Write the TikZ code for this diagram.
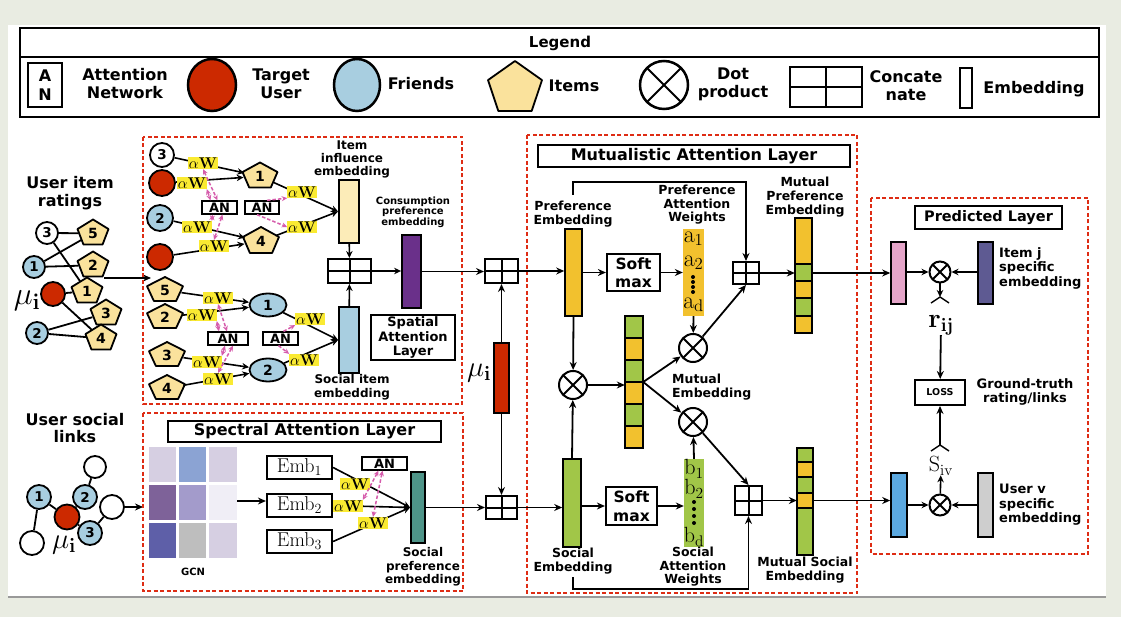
\RequirePackage{fix-cm}
\documentclass[tikz,border=0pt]{standalone}
\usepackage[no-math]{fontspec}
\setmainfont{DejaVu Sans}
\usetikzlibrary{shapes.geometric,arrows.meta,calc}
\definecolor{bgc}{RGB}{233,236,226}
\definecolor{tred}{RGB}{204,41,0}
\definecolor{fblue}{RGB}{168,206,224}
\definecolor{pyel}{RGB}{250,226,156}
\definecolor{awy}{RGB}{250,234,50}
\definecolor{pinkc}{RGB}{214,92,172}
\definecolor{dred}{RGB}{222,44,20}
\definecolor{lyel}{RGB}{252,236,184}
\definecolor{purp}{RGB}{106,48,138}
\definecolor{teal2}{RGB}{78,148,136}
\definecolor{orng}{RGB}{242,193,46}
\definecolor{grn}{RGB}{161,198,72}
\definecolor{pnk}{RGB}{228,164,200}
\definecolor{purp2}{RGB}{94,90,146}
\definecolor{blu}{RGB}{91,168,223}
\definecolor{gry}{RGB}{206,206,206}
\definecolor{ga}{RGB}{214,207,226}
\definecolor{gb}{RGB}{139,163,211}
\definecolor{gc}{RGB}{126,98,153}
\definecolor{gd}{RGB}{163,155,203}
\definecolor{ge}{RGB}{240,238,246}
\definecolor{gf}{RGB}{94,95,168}
\definecolor{gg}{RGB}{190,190,190}
\newcommand\mybx[7][]{\node[inner sep=0pt, minimum width={#5-#3}, minimum height={#6-#4}, #1] (#2) at ({(#3+#5)/2},{(#4+#6)/2}) {#7};}
\newcommand\mypent[6]{%
 \filldraw[pentst] ({#2},{#3-#5/2}) -- ({#2+#4/2},{#3-0.118*#5}) -- ({#2+0.309*#4},{#3+#5/2}) -- ({#2-0.309*#4},{#3+#5/2}) -- ({#2-#4/2},{#3-0.118*#5}) -- cycle;
 \node[pentlab, minimum width={0.93*#4}, minimum height={0.85*#5}] (#1) at ({#2},{#3+0.053*#5}) {#6};}
\tikzset{
 T/.style 2 args={font=\bfseries\fontsize{#1}{#2}\selectfont, align=center, inner sep=0pt},
 ln/.style={line width=1.8pt},
 arr/.style={line width=1.8pt, -{Stealth[length=8pt,width=7pt]}},
 sarr/.style={line width=1.6pt, -{Stealth[length=7pt,width=6.5pt]}},
 pkd/.style={draw=pinkc, line width=1.5pt, dash pattern=on 3.5pt off 2pt, {Stealth[length=5.5pt,width=5pt]}-{Stealth[length=5.5pt,width=5pt]}},
 pks/.style={draw=pinkc, line width=1.5pt, dash pattern=on 3.5pt off 2pt, -{Stealth[length=5.5pt,width=5pt]}},
 aw/.style={fill=awy, inner sep=0.6pt, font=\fontsize{15.5}{15.5}\selectfont},
 uc/.style={circle, draw, line width=1.8pt, minimum size=#1, inner sep=0pt, font=\bfseries\fontsize{13.5}{13.5}\selectfont},
 wc/.style={uc=#1, fill=white},
 bc/.style={uc=#1, fill=fblue},
 rc/.style={uc=#1, fill=tred},
 fe/.style={ellipse, draw, line width=1.8pt, fill=fblue, minimum width=37, minimum height=23, inner sep=0pt, font=\bfseries\fontsize{14}{14}\selectfont},
 pentst/.style={fill=pyel, draw=black, line width=1.8pt, line join=round},
 pentlab/.style={ellipse, inner sep=0pt, font=\bfseries\fontsize{14}{14}\selectfont},
 dotp/.style={circle, draw, line width=2pt, minimum size=#1, inner sep=0pt, path picture={\draw[line width=2pt] (path picture bounding box.north west) -- (path picture bounding box.south east) (path picture bounding box.north east) -- (path picture bounding box.south west);}},
 cc/.style={draw, line width=2pt, path picture={\draw[line width=2pt] (path picture bounding box.north) -- (path picture bounding box.south) (path picture bounding box.west) -- (path picture bounding box.east);}},
 rd/.style={draw=dred, line width=2pt, dash pattern=on 4pt off 2.5pt},
 an/.style={draw, line width=1.3pt, inner sep=0pt, minimum height=13, fill=white, font=\bfseries\fontsize{13}{13}\selectfont},
 cellst/.style={draw, line width=1.3pt},
 mth/.style={inner sep=0pt, font=\fontsize{#1}{#1}\selectfont},
}
\begin{document}
\begin{tikzpicture}[x=1pt,y=-1pt]
\useasboundingbox (0,0) rectangle (1121,617);
\fill[bgc] (0,0) rectangle (1121,617);
\fill[white] (8,25) rectangle (1106,597);
\draw[gray!80, line width=1.5pt] (8,597) -- (1106,597);

% ---------------- Legend
\draw[line width=2.2pt] (20,28) rectangle (1099,117);
\draw[line width=1.8pt] (20,57) -- (1099,57);
\node[T={15}{17}] (lg) at (560,43) {Legend};
\node[draw, line width=2.5pt, minimum width=34, minimum height=44, T={16}{19}] (lgan) at (45,85) {A\\N};
\node[T={16}{18}] (lgant) at (125,84) {Attention\\Network};
\node[ellipse, draw, line width=2.5pt, fill=tred, minimum width=48, minimum height=52] (lgr) at (212,85) {};
\node[T={16}{18}] (lgrt) at (281,84) {Target\\User};
\node[ellipse, draw, line width=2.5pt, fill=fblue, minimum width=46, minimum height=52] (lgb) at (357,85) {};
\node[T={16}{18}] (lgbt) at (421,84) {Friends};
\mypent{lgp}{515}{86}{54}{50}{}
\node[T={16}{18}] (lgpt) at (574,86) {Items};
\node[dotp=48, line width=2.5pt] (lgd) at (664,85) {};
\node[T={16}{18}] (lgdt) at (733,84) {Dot\\product};
\mybx[cc]{lgc}{790}{67}{862}{107}{}
\node[T={16}{18}] (lgct) at (906,86) {Concate\\nate};
\mybx[draw, line width=1.3pt]{lge}{960}{68}{972}{108}{}
\node[T={16}{18}] (lget) at (1034,89) {Embedding};

% ---------------- User item ratings graph
\node[T={16}{18}] (uir) at (70,193) {User item\\ratings};
\node[wc=22] (g3) at (47,233) {3};
\mypent{gp5}{93}{232}{31}{25}{5}
\node[bc=22] (g1) at (34,267) {1};
\mypent{gp2}{93}{264}{31}{25}{2}
\node[rc=24] (gu) at (53,294) {};
\mypent{gp1}{87}{290}{31}{25}{1}
\mypent{gp3}{106}{312}{31}{25}{3}
\node[bc=22] (g2) at (37,333) {2};
\mypent{gp4}{101}{337}{31}{25}{4}
\draw[ln] (g3) -- (gp5);
\draw[ln] (g3) -- (gp1);
\draw[ln] (g1) -- (gp5);
\draw[ln] (g1) -- (gp2);
\draw[ln] (gu) -- (gp1);
\draw[ln] (gu) -- (gp4);
\draw[ln] (g2) -- (gp3);
\draw[ln] (g2) -- (gp4);
\node[mth=32] (mul1) at (27,301) {$\mu_{\mathbf{i}}$};
\coordinate (ga1) at (104,278);
\coordinate (ga2) at (151,278);
\draw[arr] (ga1) -- (ga2);

% ---------------- Spatial block
\draw[rd] (143,137) rectangle (462,404);
\node[wc=24] (sc3) at (162,155) {3};
\node[rc=26] (sr1) at (162,183) {};
\node[bc=26] (sc2) at (160,218) {2};
\node[rc=26] (sr2) at (160,257) {};
\mypent{sp1}{260}{175}{35}{25}{1}
\mypent{sp4}{261}{240}{36}{26}{4}
\mybx[draw, line width=1.8pt, fill=lyel]{sie}{339}{180}{359}{243}{}
\node[T={12}{13}] (siet) at (352,159) {Item\\influence\\embedding};
\mybx[cc]{scc}{328}{259}{371}{283}{}
\mybx[draw, line width=1.8pt, fill=purp]{spu}{402}{235}{421}{308}{}
\node[T={10}{10.5}] (sput) at (413,212) {Consumption\\preference\\embedding};
\mybx[draw, line width=2pt, T={13}{14.5}]{ssl}{371}{315}{455}{360}{Spatial\\Attention\\Layer}
\mybx[draw, line width=1.8pt, fill=fblue]{ssi}{339}{307}{359}{373}{}
\node[T={12}{14}] (ssit) at (352,387) {Social item\\embedding};
\mypent{sp5}{165}{289}{36}{24}{5}
\mypent{sp2}{165}{316}{36}{24}{2}
\mypent{sp3}{167}{354}{36}{24}{3}
\mypent{sp4b}{167}{387}{36}{24}{4}
\node[fe] (sf1) at (268,305) {1};
\node[fe] (sf2) at (268,370) {2};
\draw[sarr] (sc3) -- (sp1);
\draw[sarr] (sr1) -- (sp1);
\draw[sarr] (sc2) -- (sp4);
\draw[sarr] (sr2) -- (sp4);
\draw[sarr] (sp1) -- (sie.west);
\draw[sarr] (sp4) -- (sie.west);
\draw[sarr] (sie) -- (scc);
\draw[sarr] (ssi) -- (scc);
\draw[sarr] (scc) -- (scc -| spu.west);
\draw[sarr] (sp5) -- (sf1);
\draw[sarr] (sp2) -- (sf1);
\draw[sarr] (sp3) -- (sf2);
\draw[sarr] (sp4b) -- (sf2);
\draw[sarr] (sf1) -- (ssi.west);
\draw[sarr] (sf2) -- (ssi.west);
\node[aw] (w1) at (203,163) {$\alpha\mathbf{W}$};
\node[aw] (w2) at (192,183) {$\alpha\mathbf{W}$};
\node[aw] (w3) at (197,227) {$\alpha\mathbf{W}$};
\node[aw] (w4) at (214,246) {$\alpha\mathbf{W}$};
\node[aw] (w5) at (302,192) {$\alpha\mathbf{W}$};
\node[aw] (w6) at (302,227) {$\alpha\mathbf{W}$};
\node[aw] (w7) at (218,298) {$\alpha\mathbf{W}$};
\node[aw] (w8) at (202,315) {$\alpha\mathbf{W}$};
\node[aw] (w9) at (207,362) {$\alpha\mathbf{W}$};
\node[aw] (w10) at (218,379) {$\alpha\mathbf{W}$};
\node[aw] (w11) at (310,319) {$\alpha\mathbf{W}$};
\node[aw] (w12) at (304,360) {$\alpha\mathbf{W}$};
\node[an, minimum width=35] (an1) at (219.5,207.5) {AN};
\node[an, minimum width=34] (an2) at (262,207.5) {AN};
\node[an, minimum width=40] (an3) at (228,338.5) {AN};
\node[an, minimum width=35] (an4) at (280.5,338.5) {AN};
\draw[pkd] (w1.south) -- ([xshift=-2]an1.north);
\draw[pkd] (w2.south east) -- ([xshift=-9]an1.north);
\draw[pkd] ([xshift=-7]an1.south) -- (w3.north east);
\draw[pkd] ([xshift=3]an1.south) -- (w4.north);
\draw[pks] ([xshift=5]an2.north) -- (w5.south west);
\draw[pks] ([xshift=-5]an2.south) -- (w6.west);
\draw[pkd] (w7.south) -- ([xshift=-1]an3.north);
\draw[pkd] (w8.south east) -- ([xshift=-9]an3.north);
\draw[pkd] ([xshift=-3]an3.south) -- (w9.north east);
\draw[pkd] ([xshift=5]an3.south) -- (w10.north);
\draw[pks] ([xshift=3]an4.north) -- (w11.south west);
\draw[pks] ([xshift=-2]an4.south) -- (w12.north west);

% ---------------- User social links graph
\node[T={16}{17}] (usl) at (75,428) {User social\\links};
\node[wc=22] (lt) at (95,467) {};
\node[bc=24] (l1) at (39,497) {1};
\node[bc=24] (l2) at (85,497) {2};
\node[rc=25] (lu) at (67,517) {};
\node[wc=24] (lr) at (112,507) {};
\node[bc=24] (l3) at (90,533) {3};
\node[wc=24] (lb) at (32,543) {};
\draw[ln] (l1) -- (lb);
\draw[ln] (l1) -- (lu);
\draw[ln] (lu) -- (l2);
\draw[ln] (l2) -- (lt);
\draw[ln] (lu) -- (l3);
\draw[ln] (l3) -- (lr);
\node[mth=29] (mul2) at (64,545) {$\mu_{\mathbf{i}}$};
\coordinate (spin) at (143,507);
\draw[arr] (lr) -- (spin);

% ---------------- Spectral block
\draw[rd] (143,413) rectangle (463,591);
\mybx[draw, line width=2.2pt, T={16}{18}]{spt}{168}{421}{441}{442}{Spectral Attention Layer}
\fill[ga] (149,447) rectangle (176,482);
\fill[gb] (179,447) rectangle (206,482);
\fill[ga] (209,447) rectangle (237,482);
\fill[gc] (149,485) rectangle (176,520);
\fill[gd] (179,485) rectangle (206,520);
\fill[ge] (209,485) rectangle (237,520);
\fill[gf] (149,523) rectangle (176,558);
\fill[gg] (179,523) rectangle (206,558);
\fill[ga] (209,523) rectangle (237,558);
\mybx{gcn}{149}{447}{237}{558}{}
\node[T={10}{10}] (gcnt) at (193,572) {GCN};
\mybx[draw, line width=2.2pt, font=\fontsize{20}{20}\selectfont]{e1}{267}{456}{332}{479}{$\mathrm{Emb}_1$}
\mybx[draw, line width=2.2pt, font=\fontsize{20}{20}\selectfont]{e2}{267}{494}{332}{517}{$\mathrm{Emb}_2$}
\mybx[draw, line width=2.2pt, font=\fontsize{20}{20}\selectfont]{e3}{267}{530}{332}{553}{$\mathrm{Emb}_3$}
\draw[arr] (gcn.east |- 0,501) -- (e2.west |- 0,501);
\mybx[draw, line width=1.8pt, fill=teal2]{tl}{411}{472}{425}{543}{}
\node[T={12}{13.5}] (tlt) at (423,567) {Social\\preference\\embedding};
\draw[sarr] (e1.east) -- (tl.west);
\draw[sarr] (e2.east) -- (tl.west);
\draw[sarr] (e3.east) -- (tl.west);
\node[aw] (sw1) at (355,484) {$\alpha\mathbf{W}$};
\node[aw] (sw2) at (348,506) {$\alpha\mathbf{W}$};
\node[aw] (sw3) at (373,523) {$\alpha\mathbf{W}$};
\mybx[an]{an5}{362}{457}{407}{470}{AN}
\draw[pkd] ([xshift=-2]an5.south) -- (sw3.north);
\draw[pkd] ([xshift=-6]an5.south) -- (sw2.north east);

% ---------------- middle
\mybx[draw, line width=1.8pt, fill=tred]{mu}{494}{343}{509}{413}{}
\node[mth=29] (mul3) at (479,373) {$\mu_{\mathbf{i}}$};
\mybx[cc]{mc1}{485}{259}{518}{283}{}
\mybx[cc]{mc2}{486}{496}{517}{519}{}
\draw[arr] (spu) -- (spu -| mc1.west);
\draw[arr] (tl.east |- mc2) -- (mc2.west);
\draw[arr] (mu.north) -- (mc1.south);
\draw[arr] (mu.south) -- (mc2.north);

% ---------------- Mutualistic block
\draw[rd] (527,135) rectangle (857,593);
\mybx[draw, line width=2.2pt, T={16}{18}]{mtt}{538}{145}{850}{167}{Mutualistic Attention Layer}
\mybx[draw, line width=1.6pt, fill=orng]{pref}{565}{229}{582}{316}{}
\node[T={12.5}{14}] (preft) at (573,214) {Preference\\Embedding};
\mybx[draw, line width=2.2pt, T={15.5}{18.5}]{sm1}{607}{254}{660}{291}{Soft\\max}
\mybx[fill=orng]{acol}{683}{229}{704}{316}{}
\node[mth=24] (a1) at (693.5,239) {$\mathrm{a}_1$};
\node[mth=24] (a2) at (693.5,263) {$\mathrm{a}_2$};
\node[mth=24] (ad) at (693.5,305) {$\mathrm{a}_\mathrm{d}$};
\foreach \yy in {277,282,287,292} \fill (693,\yy) circle (2);
\node[T={12.5}{13.5}] (acolt) at (697,205) {Preference\\Attention\\Weights};
\mybx[cc]{mc3}{733}{262}{759}{284}{}
\filldraw[cellst, fill=orng] (795,218) rectangle (812,264);
\filldraw[cellst, fill=grn] (795,264) rectangle (812,281);
\filldraw[cellst, fill=orng] (795,281) rectangle (812,298);
\filldraw[cellst, fill=grn] (795,298) rectangle (812,316);
\filldraw[cellst, fill=orng] (795,316) rectangle (812,333);
\mybx{mps}{795}{218}{812}{333}{}
\node[T={12.5}{14}] (mpst) at (805,197) {Mutual\\Preference\\Embedding};
\node[dotp=28] (dota) at (693,348) {};
\node[dotp=28] (dotl) at (573,385) {};
\filldraw[cellst, fill=grn] (625,316) rectangle (643,338);
\filldraw[cellst, fill=orng] (625,338) rectangle (643,360);
\filldraw[cellst, fill=grn] (625,360) rectangle (643,382);
\filldraw[cellst, fill=orng] (625,382) rectangle (643,404);
\filldraw[cellst, fill=grn] (625,404) rectangle (643,426);
\filldraw[cellst, fill=orng] (625,426) rectangle (643,448);
\mybx{me}{625}{316}{643}{448}{}
\node[T={12.5}{14}, align=left, anchor=west] (met) at (672,387) {Mutual\\Embedding};
\node[dotp=28] (dotb) at (693,422) {};
\mybx[draw, line width=1.6pt, fill=grn]{so}{563}{459}{581}{547}{}
\node[T={12.5}{14}] (sot) at (573,561) {Social\\Embedding};
\mybx[draw, line width=2.2pt, T={15.5}{18.5}]{sm2}{606}{487}{657}{525}{Soft\\max}
\mybx[fill=grn]{bcol}{684}{459}{704}{547}{}
\node[mth=22] (b1) at (694,469) {$\mathrm{b}_1$};
\node[mth=22] (b2) at (694,489) {$\mathrm{b}_2$};
\node[mth=22] (bd) at (694,537) {$\mathrm{b}_\mathrm{d}$};
\foreach \yy in {502,509,516,523} \fill (694,\yy) circle (2);
\node[T={12.5}{13.5}] (bcolt) at (693,567) {Social\\Attention\\Weights};
\mybx[cc]{mc4}{735}{486}{762}{515}{}
\filldraw[cellst, fill=grn] (797,448) rectangle (813,462);
\filldraw[cellst, fill=orng] (797,462) rectangle (813,477);
\filldraw[cellst, fill=grn] (797,477) rectangle (813,493);
\filldraw[cellst, fill=orng] (797,493) rectangle (813,508);
\filldraw[cellst, fill=grn] (797,508) rectangle (813,555);
\mybx{mss}{797}{448}{813}{555}{}
\node[T={12.5}{14}] (msst) at (805,570) {Mutual Social\\Embedding};

\draw[arr] (mc1) -- (mc1 -| pref.west);
\draw[arr] (mc2) -- (mc2 -| so.west);
\draw[arr] (pref) -- (sm1);
\draw[arr] (sm1) -- (acol);
\draw[arr] (acol.south) -- (dota);
\draw[arr] (dota) -- (mc3.south);
\coordinate (pt) at (573,195);
\draw[arr] (pt) -- ++(0,-13) -| (mc3.north);
\draw[arr] (mc3) -- (mc3 -| mps.west);
\draw[arr] (pref.south) -- (dotl);
\draw[arr] (dotl) -- (dotl -| me.west);
\draw[arr] (me.east) -- (dota);
\draw[arr] (me.east) -- (dotb);
\draw[arr] (so.north) -- (dotl);
\draw[arr] (bcol.north) -- (dotb);
\draw[arr] (dotb) -- (mc4.north);
\draw[arr] (so.east |- sm2) -- (sm2.west);
\draw[arr] (sm2) -- (sm2 -| bcol.west);
\coordinate (lp) at (573,577);
\draw[arr] (lp) -- ++(0,12) -| (mc4.south);
\draw[arr] (mc4) -- (mc4 -| mss.west);

% ---------------- Predicted block
\draw[rd] (871,198) rectangle (1088,554);
\mybx[draw, line width=2.2pt, T={14.5}{16}]{ptt}{915}{206}{1062}{229}{Predicted Layer}
\mybx[draw, line width=1.6pt, fill=pnk]{pkr}{891}{242}{906}{304}{}
\mybx[draw, line width=1.6pt, fill=purp2]{pu2}{978}{242}{993}{304}{}
\node[dotp=21] (dot1) at (940,272) {};
\node[T={13}{14.5}, align=left, anchor=west] (itt) at (999,268) {Item j\\specific\\embedding};
\draw[arr] (mc3 -| mps.east) -- (mc3 -| pkr.west);
\draw[sarr] (pkr.east |- dot1) -- (dot1);
\draw[sarr] (pu2.west |- dot1) -- (dot1);
\coordinate (rh) at (940,297);
\draw[sarr] (dot1) -- (rh);
\draw[line width=1.4pt] (931,303) -- (rh) -- (949,303);
\node[mth=27] (rij) at (941,325) {$\mathbf{r}_{\mathbf{ij}}$};
\mybx[draw, line width=2pt, T={9.5}{10}]{loss}{915}{380}{965}{405}{LOSS}
\node[T={13}{14.5}] (gtt) at (1025,392) {Ground-truth\\rating/links};
\draw[arr] (rij) -- (loss);
\coordinate (sh) at (940,445);
\draw[line width=1.4pt] (931,451) -- (sh) -- (949,451);
\draw[arr] (sh) -- (loss);
\node[mth=22] (siv) at (941,466) {$\mathrm{S}_{\mathrm{iv}}$};
\mybx[draw, line width=1.6pt, fill=blu]{bl}{891}{473}{907}{537}{}
\mybx[draw, line width=1.6pt, fill=gry]{gr}{978}{473}{993}{537}{}
\node[dotp=21] (dot2) at (940,505) {};
\node[T={13}{14.5}, align=left, anchor=west] (uvt) at (999,505) {User v\\specific\\embedding};
\draw[arr] (mc4 -| mss.east) -- (mc4 -| bl.west);
\draw[sarr] (bl.east |- dot2) -- (dot2);
\draw[sarr] (gr.west |- dot2) -- (dot2);
\draw[sarr] (dot2) -- (siv);
\end{tikzpicture}
\end{document}
